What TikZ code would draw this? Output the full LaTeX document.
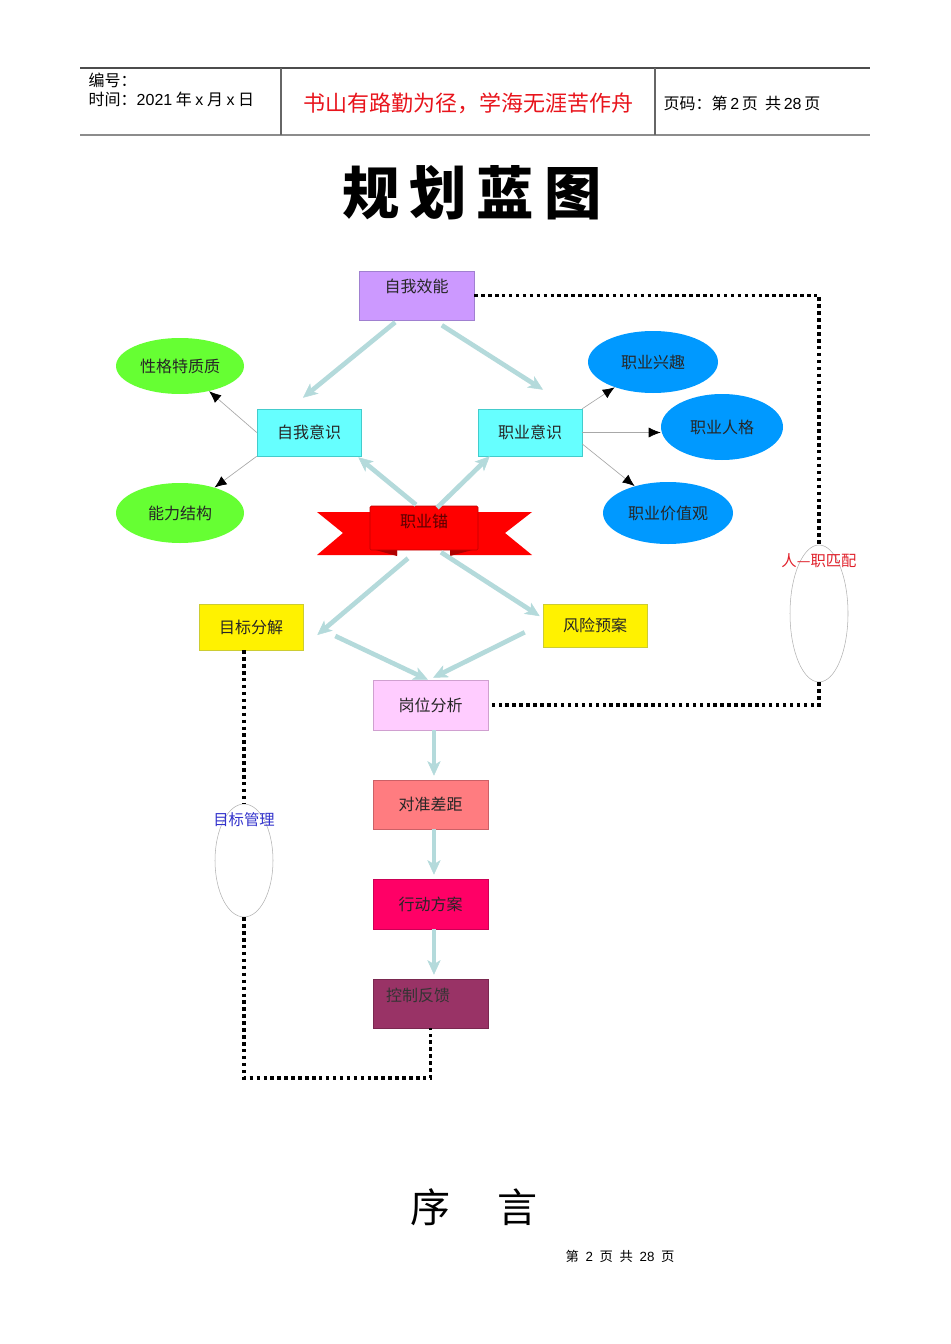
\documentclass[tikz,border=0pt]{standalone}
\usepackage{fontspec}
\setmainfont{Noto Sans CJK SC}
\newfontfamily\latinfont{Liberation Sans}
\usepackage{tikz}
\usetikzlibrary{arrows.meta,shapes.geometric}

\definecolor{effcolor}{HTML}{CC99FF}
\definecolor{effedge}{HTML}{A080D0}
\definecolor{selfcolor}{HTML}{66FFFF}
\definecolor{selfedge}{HTML}{44CCCC}
\definecolor{greencolor}{HTML}{66FF33}
\definecolor{bluecolor}{HTML}{0099FF}
\definecolor{yellowedge}{HTML}{CCCC33}
\definecolor{postcolor}{HTML}{FFCCFF}
\definecolor{postedge}{HTML}{D0A0D0}
\definecolor{gapcolor}{HTML}{FF7C80}
\definecolor{gapedge}{HTML}{CC6066}
\definecolor{actcolor}{HTML}{FF0066}
\definecolor{actedge}{HTML}{CC0055}
\definecolor{ctrlcolor}{HTML}{993366}
\definecolor{ctrledge}{HTML}{7A2850}
\definecolor{ribbonred}{HTML}{FF0000}
\definecolor{ribbondark}{HTML}{B00000}
\definecolor{ribbonedge}{HTML}{C00000}
\definecolor{ribbontext}{HTML}{5A0000}
\definecolor{flowline}{HTML}{B4DADB}
\definecolor{thinline}{HTML}{A8A8A8}
\definecolor{mottored}{HTML}{E8141C}
\definecolor{matchred}{HTML}{E0202A}
\definecolor{mgmtblue}{HTML}{3333CC}

\newcommand{\nodefont}{\fontsize{12}{14}\selectfont}
\newcommand{\headfont}{\fontsize{12}{14}\selectfont}
\newcommand{\mottofont}{\fontsize{16.5}{18}\selectfont}
\newcommand{\tagfont}{\fontsize{11.5}{13}\selectfont}
\newcommand{\lat}[1]{{\latinfont #1}}

\begin{document}
\begin{tikzpicture}
		[x=0.75pt,y=-0.75pt,>=Latex,
		 box/.style = {draw, shape=rectangle, inner sep=0pt, minimum width=78pt, minimum height=35.25pt, font=\nodefont, text=black!85},
		 widebox/.style = {box, minimum width=86.25pt, minimum height=37.5pt},
		 oval/.style = {shape=ellipse, inner sep=0pt, minimum width=96pt, minimum height=44pt, font=\nodefont, text=black!85},
		 uptext/.style = {text height=9pt, text depth=12.75pt},
		 bigarrow/.style = {draw=flowline, line width=3.5pt, -{Stealth[length=11pt,width=10pt,inset=3pt,line width=0.4pt]}},
		 thinarrow/.style = {draw=thinline, line width=0.5pt, -{Latex[length=9pt,width=7.5pt,color=black]}},
		 dotline/.style = {draw=black, line width=2.6pt, dash pattern=on 2.6pt off 2.6pt},
		 tag/.style = {shape=ellipse, draw=black!30, fill=white, minimum width=43.5pt, inner sep=0pt},
		]

		\useasboundingbox (0,0) rectangle (950,1344);

		% header
		\draw[black!70, line width=0.8pt] (80,68) -- (870,68);
		\draw[black!45, line width=1.5pt] (80,135) -- (870,135);
		\draw[black!60, line width=0.8pt] (281,68) -- (281,135);
		\draw[black!60, line width=0.8pt] (655,68) -- (655,135);
		\node[anchor=west, font=\headfont] (serial) at (84,80) {编号：};
		\node[anchor=west, font=\headfont] (date) at (84,99) {时间：\lat{2021}\ 年\ \lat{x}\ 月\ \lat{x}\ 日};
		\node[font=\mottofont, text=mottored] (motto) at (468,103) {书山有路勤为径，学海无涯苦作舟};
		\node[anchor=west, font=\headfont] (pageno) at (659,103) {页码：第\,\lat{2}\,页\ \ 共\,\lat{28}\,页};

		\node[font=\fontsize{43}{43}\selectfont\bfseries] (title) at (472,193) {规\hspace{7.5pt}划\hspace{7.5pt}蓝\hspace{7.5pt}图};

		% boxes and ovals
		\node[widebox, uptext, fill=effcolor, draw=effedge, minimum height=36.75pt] (effic) at (416.5,295.5) {自我效能};
		\node[box, fill=selfcolor, draw=selfedge] (selfaw) at (309,432.5) {自我意识};
		\node[box, fill=selfcolor, draw=selfedge] (jobaw) at (530,432.5) {职业意识};
		\node[oval, fill=greencolor, minimum height=42pt] (persona) at (180,366) {性格特质质};
		\node[oval, fill=greencolor, minimum height=45pt] (ability) at (180,513) {能力结构};
		\node[oval, fill=bluecolor, minimum width=97.5pt, minimum height=46.5pt] (interest) at (653,362) {职业兴趣};
		\node[oval, fill=bluecolor, minimum width=91.5pt, minimum height=49.5pt] (jobpers) at (722,427) {职业人格};
		\node[oval, fill=bluecolor, minimum width=97.5pt, minimum height=46.5pt] (values) at (668,513) {职业价值观};

		% ribbon
		\fill[ribbonred] (317,512) -- (397,512) -- (397,555) -- (317,555) -- (343,533) -- cycle;
		\fill[ribbonred] (532,512) -- (450,512) -- (450,555) -- (532,555) -- (505,533) -- cycle;
		\fill[ribbondark] (372,549) -- (397,549) -- (397,556) -- cycle;
		\fill[ribbondark] (476,549) -- (450,549) -- (450,556) -- cycle;
		\node[box, fill=ribbonred, draw=ribbonedge, minimum width=81pt, minimum height=33pt, text height=9pt, text depth=10.5pt, text=ribbontext, rounded corners=1pt] (ribbon) at (424,528) {职业锚};

		\node[box, fill=yellow, draw=yellowedge, minimum height=34.5pt] (goal) at (251,627) {目标分解};
		\node[box, fill=yellow, draw=yellowedge, minimum height=32.25pt] (risk) at (595,625.5) {风险预案};
		\node[widebox, fill=postcolor, draw=postedge] (post) at (430.5,705) {岗位分析};
		\node[widebox, fill=gapcolor, draw=gapedge, minimum height=36.75pt] (gap) at (430.5,804.5) {对准差距};
		\node[widebox, fill=actcolor, draw=actedge] (action) at (430.5,904) {行动方案};
		\node[widebox, uptext, fill=ctrlcolor, draw=ctrledge, minimum height=36.75pt, text width=66.75pt, align=left, inner xsep=9.75pt, text=black!80] (control) at (430.5,1003.5) {控制反馈};

		% loop ovals
		\node[tag, minimum height=102.75pt, label={[text=matchred, font=\tagfont, label distance=-21pt]90:人—职匹配}] (match) at (819,613.5) {};
		\node[tag, minimum height=84.75pt, label={[text=mgmtblue, font=\tagfont, label distance=-21pt]90:目标管理}] (mgmt) at (244,860.5) {};

		% dotted loops
		\draw[dotline] (effic.east) -| (match.north);
		\draw[dotline] (match.south) |- (post.east);
		\draw[dotline] (goal.south -| mgmt.north) -- (mgmt.north);
		\coordinate (loopcorner) at (244,1078);
		\draw[dotline] (mgmt.south) -- (loopcorner) -| (control.south);

		% flow arrows
		\draw[bigarrow] ([xshift=-16pt,yshift=-1.5pt]effic.south) -- ([xshift=-4.5pt,yshift=8.25pt]selfaw.north);
		\draw[bigarrow] ([xshift=19pt,yshift=-3.75pt]effic.south) -- ([xshift=9.75pt,yshift=14.25pt]jobaw.north);
		\draw[bigarrow] ([xshift=-6pt,yshift=0.75pt]ribbon.north) -- ([xshift=-2.25pt,yshift=-0.75pt]selfaw.south east);
		\draw[bigarrow] ([xshift=9.75pt,yshift=-1.5pt]ribbon.north) -- ([xshift=9pt]jobaw.south west);
		\draw[bigarrow] ([xshift=-12pt,yshift=-6pt]ribbon.south) -- ([xshift=10.5pt,yshift=-6pt]goal.east);
		\draw[bigarrow] ([xshift=12.75pt,yshift=-1.5pt]ribbon.south) -- ([xshift=-2.25pt,yshift=7pt]risk.west);
		\draw[bigarrow] ([xshift=24pt,yshift=-6.75pt]goal.east) -- ([xshift=-1.9pt]post.north);
		\draw[bigarrow] ([xshift=-13.5pt,yshift=11.25pt]risk.south west) -- ([xshift=1.9pt,yshift=1.5pt]post.north);
		\draw[bigarrow] ([xshift=2.6pt]post.south) -- ([xshift=2.6pt,yshift=3pt]gap.north);
		\draw[bigarrow] ([xshift=2.6pt]gap.south) -- ([xshift=2.6pt,yshift=3pt]action.north);
		\draw[bigarrow] ([xshift=2.6pt]action.south) -- ([xshift=2.6pt,yshift=3pt]control.north);

		% thin arrows
		\draw[thinarrow] (selfaw.west) -- (persona);
		\draw[thinarrow] (selfaw.south west) -- (ability);
		\draw[thinarrow] (jobaw.north east) -- (interest);
		\draw[thinarrow] (jobaw.east) -- (jobaw.east -| jobpers.west);
		\draw[thinarrow] ([yshift=-8.6pt]jobaw.east) -- (values);

		% bottom
		\node[font=\fontsize{30}{30}\selectfont] (preface) at (474,1207) {序\hspace{35pt}言};
		\node[font=\fontsize{10}{12}\selectfont] (footer) at (620,1256) {第\hspace{5pt}\lat{2}\hspace{5pt}页\hspace{5pt}共\hspace{5pt}\lat{28}\hspace{5pt}页};

\end{tikzpicture}
\end{document}
